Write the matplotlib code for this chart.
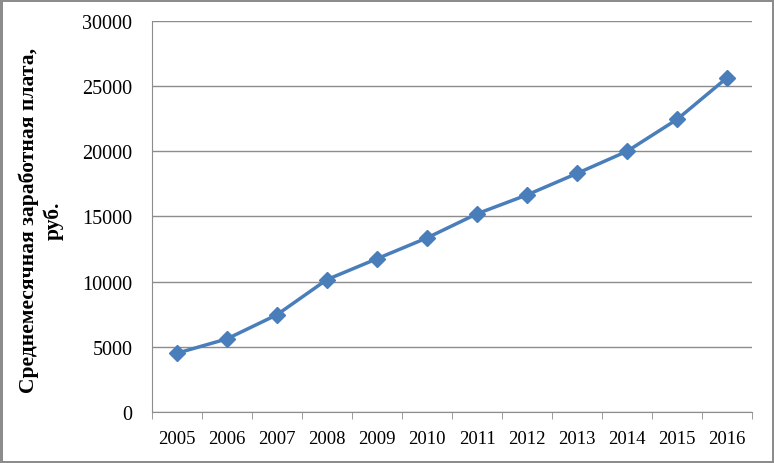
import matplotlib
matplotlib.use('Agg')
import matplotlib.pyplot as plt
import numpy as np

years = ['2005', '2006', '2007', '2008', '2009', '2010',
         '2011', '2012', '2013', '2014', '2015', '2016']
salary = [4500, 5600, 7450, 10150, 11750, 13350,
          15200, 16650, 18300, 20000, 22450, 25650]
y_ticks = [0, 5000, 10000, 15000, 20000, 25000, 30000]

plt.rcParams['font.family'] = ['Liberation Serif', 'DejaVu Serif']

fig = plt.figure(figsize=(7.74, 4.64), dpi=100, edgecolor='#8c8c8c', linewidth=2.5)
ax = fig.add_axes([0.196, 0.110, 0.776, 0.843])

x = np.arange(len(years))
ax.plot(x, salary, color='#4a7ebb', linewidth=2.5, marker='D', markersize=8,
        markerfacecolor='#4a7ebb', markeredgecolor='#4a7ebb', zorder=3)

ax.set_xlim(-0.5, len(years) - 0.5)
ax.set_ylim(0, 30000)
ax.set_yticks(y_ticks)
ax.set_xticks(x)
ax.set_xticklabels(years)
ax.set_xticks(np.arange(-0.5, len(years)), minor=True)
ax.tick_params(axis='x', which='major', length=0, labelsize=13.5, pad=13)
ax.tick_params(axis='x', which='minor', length=5, color='#8c8c8c', direction='out')
ax.tick_params(axis='y', length=0, labelsize=14.5, pad=14)

ax.grid(axis='y', color='#8c8c8c', linewidth=1)
ax.set_axisbelow(True)
for side in ['top', 'right']:
    ax.spines[side].set_visible(False)
ax.spines['left'].set_color('#8c8c8c')
ax.spines['bottom'].set_color('#8c8c8c')

# y label placed as figure text so both lines sit where the reference has them
fig.text(0.053, 0.524, 'Среднемесячная заработная плата,\nруб.', fontsize=15.5,
         fontweight='bold', rotation=90, ha='center', va='center',
         multialignment='center', linespacing=1.25)

fig.savefig('out.png', dpi=100, edgecolor=fig.get_edgecolor())
